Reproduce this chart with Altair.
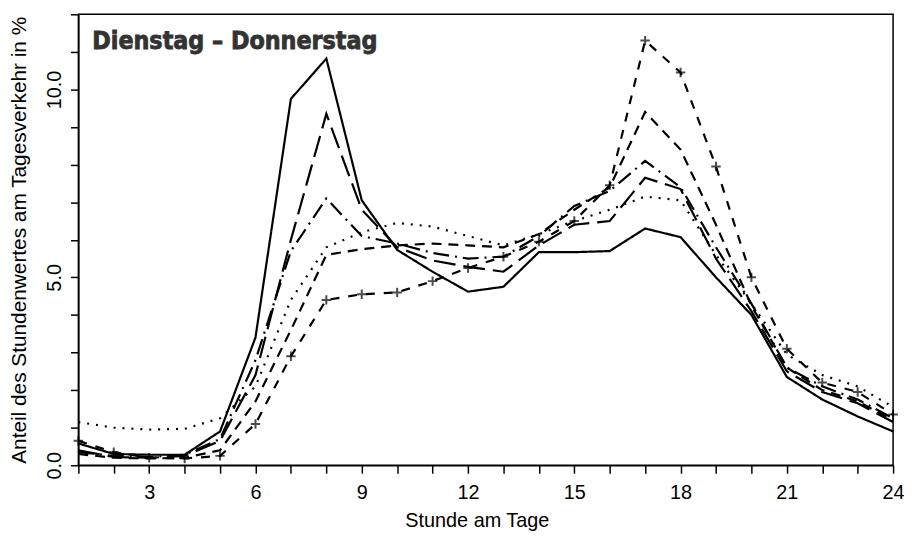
import altair as alt
import pandas as pd

HOURS = list(range(1, 25))
TITLE = "Dienstag – Donnerstag"
X_TITLE = "Stunde am Tage"
Y_TITLE = "Anteil des Stundenwertes am Tagesverkehr in %"
X_TICKS = list(range(1, 25))
Y_TICKS = list(range(0, 13))

SERIES = ["Linie A", "Linie B", "Linie C", "Linie D", "Linie E", "Linie F"]
A = [0.58, 0.30, 0.28, 0.28, 0.90, 3.40, 9.75, 10.82, 7.05, 5.73, 5.15, 4.62,
     4.75, 5.67, 5.67, 5.70, 6.30, 6.07, 5.00, 4.00, 2.35, 1.75, 1.30, 0.90]
B = [0.40, 0.22, 0.20, 0.25, 0.65, 2.40, 6.00, 9.35, 6.80, 5.80, 5.45, 5.28,
     5.15, 5.85, 6.40, 6.50, 7.65, 7.35, 5.50, 4.10, 2.50, 1.95, 1.65, 1.15]
C = [0.35, 0.25, 0.22, 0.28, 0.70, 2.80, 5.70, 7.10, 6.10, 5.90, 5.65, 5.50,
     5.55, 6.10, 6.90, 7.30, 8.10, 7.40, 5.80, 4.30, 2.60, 2.10, 1.75, 1.25]
D = [1.15, 1.00, 0.95, 0.97, 1.25, 2.10, 4.40, 5.80, 6.20, 6.45, 6.35, 6.10,
     5.85, 6.15, 6.50, 6.80, 7.15, 7.05, 5.60, 4.30, 2.95, 2.40, 2.10, 1.55]
E = [0.30, 0.20, 0.18, 0.20, 0.40, 1.70, 3.60, 5.60, 5.75, 5.85, 5.90, 5.85,
     5.80, 6.15, 6.80, 7.40, 9.40, 8.40, 6.40, 4.25, 2.60, 2.00, 1.70, 1.20]
F = [0.65, 0.35, 0.20, 0.18, 0.25, 1.10, 2.90, 4.40, 4.55, 4.60, 4.90, 5.25,
     5.55, 5.95, 6.50, 7.45, 11.30, 10.45, 7.95, 5.00, 3.10, 2.20, 1.95, 1.35]

rows = []
for name, vals in zip(SERIES, [A, B, C, D, E, F]):
    for h, v in zip(HOURS, vals):
        rows.append({"stunde": h, "anteil": v, "serie": name})
df = pd.DataFrame(rows)

DASHES = [[1, 0], [22, 8], [16, 6, 2, 6], [2, 7], [10, 7], [9, 9]]

x_enc = alt.X("stunde:Q", scale=alt.Scale(domain=[1, 24], nice=False, zero=False),
              axis=alt.Axis(values=X_TICKS, tickCount=100, title=X_TITLE, format="d",
                            labelExpr="datum.value % 3 == 0 ? datum.label : ''",
                            tickSize=8, labelPadding=10, labelFlush=False,
                            labelOverlap=False,
                            titleX=402, titleY=56,
                            titleBaseline="middle", titleAlign="center"))
y_enc = alt.Y("anteil:Q", scale=alt.Scale(domain=[0, 12], nice=False),
              axis=alt.Axis(values=Y_TICKS, tickCount=100, title=Y_TITLE,
                            labelExpr="datum.value % 5 == 0 ? format(datum.value, '.1f') : ''",
                            labelAngle=270, labelAlign="center", labelBaseline="bottom",
                            tickSize=8, labelPadding=6, labelOverlap=False,
                            titleAngle=270, titleX=-59, titleY=227.5, titleFontSize=21,
                            titleBaseline="middle", titleAlign="center"))

lines = alt.Chart(df).mark_line(color="black", strokeWidth=2.2).encode(
    x=x_enc, y=y_enc,
    strokeDash=alt.StrokeDash("serie:N", scale=alt.Scale(domain=SERIES, range=DASHES), legend=None),
    detail="serie:N",
)

plus = alt.Chart(df[df["serie"] == "Linie F"]).mark_point(
    shape="M-1,0H1M0,-1V1", filled=False, color="black", strokeWidth=2, size=90
).encode(x="stunde:Q", y="anteil:Q")

title = alt.Chart(pd.DataFrame({"t": [TITLE]})).mark_text(
    align="left", baseline="alphabetic", font="DejaVu Sans Condensed",
    fontWeight="bold", fontSize=25, color="#333333",
    stroke="#333333", strokeWidth=0.8
).encode(text="t:N", x=alt.value(14), y=alt.value(35))

chart = alt.layer(lines, plus, title).properties(
    width=822, height=455,
    autosize=alt.AutoSizeParams(type="none"),
    padding={"left": 71, "top": 4, "right": 11, "bottom": 68},
).configure(
    font="Liberation Sans",
    background="white",
).configure_view(
    stroke="black", strokeWidth=1.5,
).configure_axis(
    grid=False, domainColor="black", domainWidth=1.5, tickColor="black",
    tickWidth=1.5, labelColor="black", titleColor="black",
    labelFontSize=20, titleFontSize=20, labelFont="Liberation Sans",
    titleFont="Liberation Sans", titleFontWeight="normal",
)

chart.save("out.html", embed_options={"renderer": "svg", "actions": False})
